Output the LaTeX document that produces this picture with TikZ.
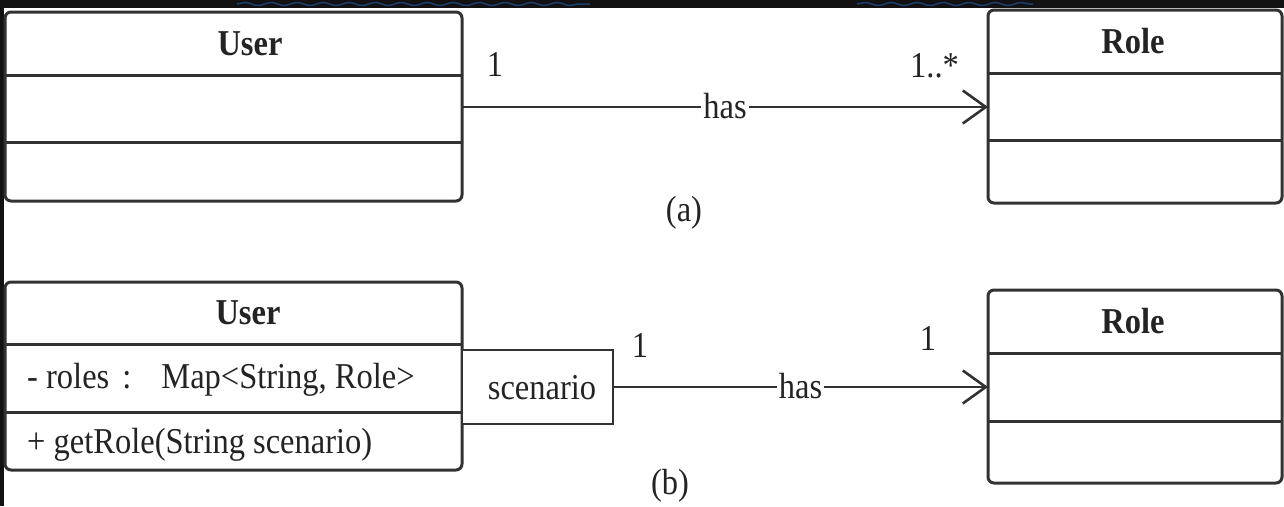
\documentclass[tikz,border=0pt]{standalone}
\usepackage{graphicx}
\usepackage{fontspec}
\setmainfont{Liberation Serif}
\usetikzlibrary{arrows.meta,decorations.pathmorphing}
\definecolor{ink}{RGB}{50,50,50}
\definecolor{txt}{RGB}{35,35,35}
\definecolor{strip}{RGB}{18,18,18}
\definecolor{squig}{RGB}{30,60,110}
\newcommand{\tallt}[1]{\scalebox{1}[1.12]{#1}}
\tikzset{
  classbox/.style={draw=ink, line width=3pt, rounded corners=6pt, fill=white, inner sep=0pt, outer sep=0pt, anchor=north west},
  divider/.style={draw=ink, line width=3pt},
  qualbox/.style={draw=ink, line width=2.5pt, fill=white, inner sep=0pt, outer sep=0pt, anchor=north west},
  assoc/.style={draw=ink, line width=2.6pt, -{Straight Barb[length=23pt,width=33pt,line width=2.6pt]}},
  lbl/.style={text=txt, font=\fontsize{32.5pt}{38pt}\selectfont, inner sep=0pt, anchor=base},
  title/.style={lbl, font=\fontsize{32.5pt}{38pt}\selectfont\bfseries},
  edgelbl/.style={lbl, fill=white, inner sep=2pt},
}
\begin{document}
\begin{tikzpicture}[x=1pt,y=-1pt]
\useasboundingbox (0,0) rectangle (1284,506);
\fill[white] (0,0) rectangle (1284,506);
\fill[strip] (0,0) rectangle (1284,8);
\fill[strip] (0,0) rectangle (4,506);
\draw[squig, line width=1.5pt, decorate, decoration={snake, amplitude=1.5pt, segment length=26pt}] (237,4) -- (590,4);
\draw[squig, line width=1.5pt, decorate, decoration={snake, amplitude=1.5pt, segment length=26pt}] (857,4) -- (1033,4);

% ---------- (a) ----------
\node[classbox, minimum width=457pt, minimum height=189pt] (usera) at (5,12) {};
\coordinate (ua1) at (0,75);
\coordinate (ua2) at (0,142);
\draw[divider] (usera.west |- ua1) -- (usera.east |- ua1);
\draw[divider] (usera.west |- ua2) -- (usera.east |- ua2);
\node[title] (useratitle) at (250,55) {\tallt{User}};

\node[classbox, minimum width=294pt, minimum height=193pt] (rolea) at (988,10) {};
\coordinate (ra1) at (0,73);
\coordinate (ra2) at (0,140);
\draw[divider] (rolea.west |- ra1) -- (rolea.east |- ra1);
\draw[divider] (rolea.west |- ra2) -- (rolea.east |- ra2);
\node[title] (roleatitle) at (1133,53) {\tallt{Role}};

\coordinate (la) at (0,107);
\draw[assoc] (usera.east |- la) -- (rolea.west |- la)
  node[edgelbl, midway, yshift=-11pt] (hasa) {\tallt{has}};
\node[lbl] (ma1) at (495,76) {\tallt{1}};
\node[lbl, anchor=base west] (ma2) at (910,77) {\tallt{1..*}};
\node[lbl] (capa) at (684,221) {\tallt{(a)}};

% ---------- (b) ----------
\node[classbox, minimum width=457pt, minimum height=188pt] (userb) at (5,282) {};
\coordinate (ub1) at (0,344);
\coordinate (ub2) at (0,412);
\draw[divider] (userb.west |- ub1) -- (userb.east |- ub1);
\draw[divider] (userb.west |- ub2) -- (userb.east |- ub2);
\node[title] (userbtitle) at (248,324) {\tallt{User}};
\node[lbl, anchor=base west] (attr) at (27,388) {\tallt{- roles\hspace{13pt}:\hspace{30pt}Map<String, Role>}};
\node[lbl, anchor=base west] (oper) at (27,453) {\tallt{+ getRole(String scenario)}};

\node[qualbox, minimum width=151pt, minimum height=74pt] (qual) at (462,350) {};
\node[lbl] (qualtext) at (542,399) {\tallt{scenario}};

\node[classbox, minimum width=294pt, minimum height=193pt] (roleb) at (988,290) {};
\coordinate (rb1) at (0,353);
\coordinate (rb2) at (0,421);
\draw[divider] (roleb.west |- rb1) -- (roleb.east |- rb1);
\draw[divider] (roleb.west |- rb2) -- (roleb.east |- rb2);
\node[title] (rolebtitle) at (1133,333) {\tallt{Role}};

\draw[assoc] (qual.east) -- (roleb.west |- qual.east)
  node[edgelbl, midway, yshift=-11pt] (hasb) {\tallt{has}};
\node[lbl] (mb1) at (640,357) {\tallt{1}};
\node[lbl] (mb2) at (928,350) {\tallt{1}};
\node[lbl] (capb) at (670,494) {\tallt{(b)}};
\end{tikzpicture}
\end{document}
